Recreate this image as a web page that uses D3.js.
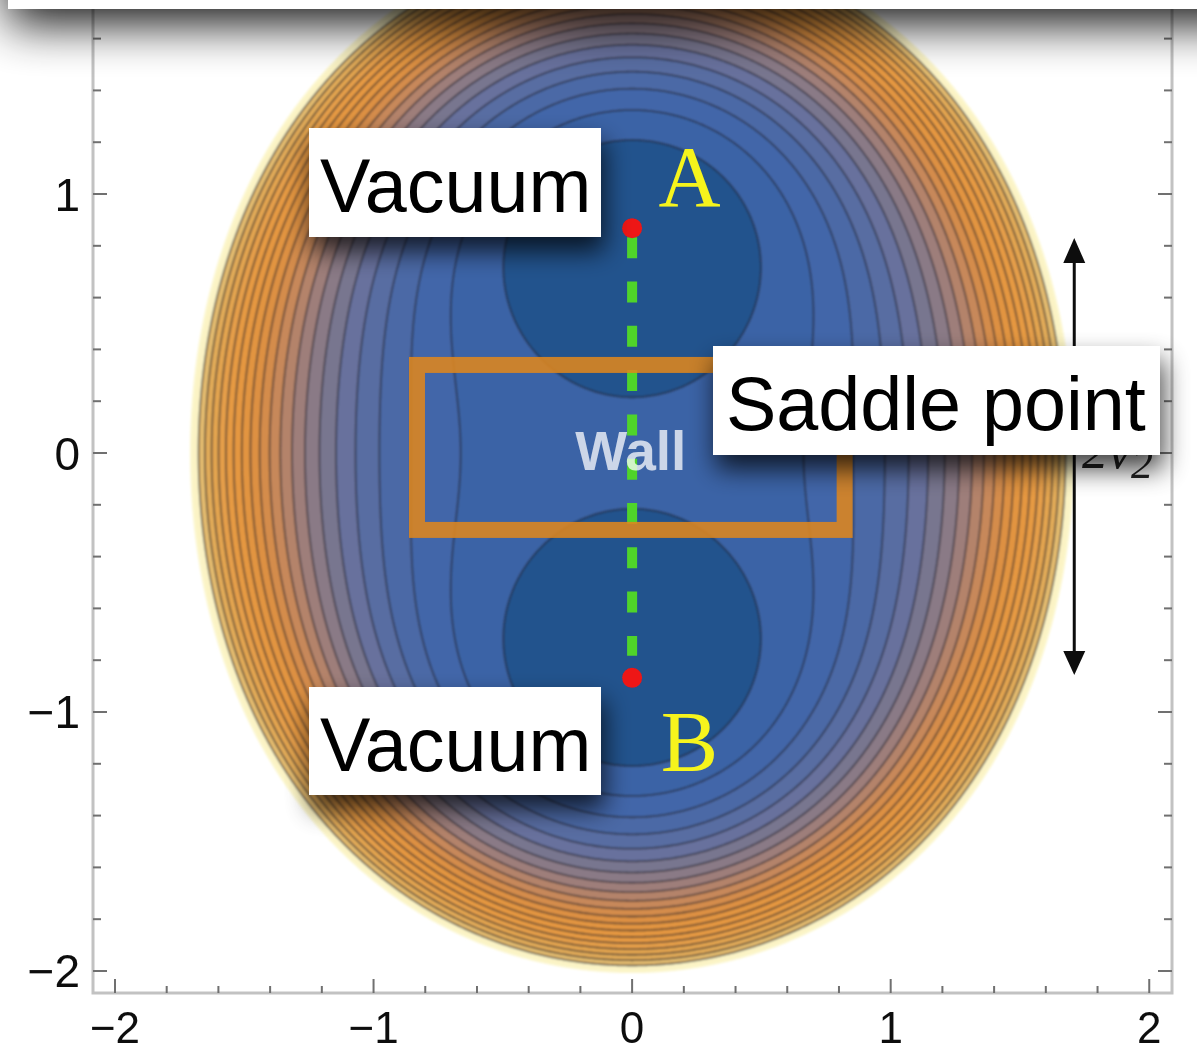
<!DOCTYPE html>
<html>
<head>
<meta charset="utf-8">
<script src="https://cdn.jsdelivr.net/npm/d3@7"></script>
<style>
  html, body { margin: 0; padding: 0; background: #ffffff; }
  svg { display: block; }
</style>
</head>
<body>
<svg id="chart" width="1197" height="1052"></svg>
<script>
// ---- data -------------------------------------------------------------
// Major tick values on both axes
const xTicks = [-2, -1, 0, 1, 2];
const yTicks = [-2, -1, 0, 1];
const tickStep = 0.2;

// Double-well potential V(x, y) = (y² − v²)² + m·x² + g·x²y² + λ·x⁴
const vev = 0.868;                    // vacua A and B sit at (0, ±vev)
const couplings = [0.544, 1.93, 1.0]; // m, g, λ

// Contour levels of V and the fill colour of the band just below each level
const contourLevels = [0.5, 1.0, 1.5, 2.0, 2.5, 3.0, 3.5, 4.0, 4.5, 5.0, 5.5,
                       6.0, 6.5, 7.0, 7.5, 8.0, 8.5, 9.0, 9.5, 10.0, 10.5];
const bandColors = ["#24538d", "#3a63a6", "#4266a9", "#4b69a6", "#586da2", "#67719d",
                    "#78768f", "#8a7a86", "#9e7e7a", "#b4836a", "#c7885a", "#d48c4b",
                    "#dd9043", "#e29440", "#e59741", "#e69a43", "#e59e48", "#e3a44f",
                    "#e2ab58", "#e4bb6e", "#fbf3c4"];

// Point labels
const vacuumNames = ["A", "B"];

// ---- scales -----------------------------------------------------------
const svg = d3.select("#chart");
const x = d3.scaleLinear().domain([-2.085, 2.088]).range([93, 1172]);
const y = d3.scaleLinear().domain([-2.085, 2.085]).range([993, -87]);

const defs = svg.append("defs");
defs.append("filter").attr("id", "soft")
  .attr("x", "-5%").attr("y", "-5%").attr("width", "110%").attr("height", "110%")
  .append("feGaussianBlur").attr("stdDeviation", 0.9);
defs.append("filter").attr("id", "softer")
  .attr("filterUnits", "userSpaceOnUse")
  .attr("x", 0).attr("y", -100).attr("width", 1197).attr("height", 1152)
  .append("feGaussianBlur").attr("stdDeviation", 0.6);

function addShadow(id, std, dx, dy, alpha, fx, fy, fw, fh) {
  const f = defs.append("filter").attr("id", id)
    .attr("x", fx).attr("y", fy).attr("width", fw).attr("height", fh);
  f.append("feGaussianBlur").attr("in", "SourceAlpha").attr("stdDeviation", std);
  f.append("feOffset").attr("dx", dx).attr("dy", dy).attr("result", "off");
  f.append("feComponentTransfer").append("feFuncA").attr("type", "linear").attr("slope", alpha);
  const m = f.append("feMerge");
  m.append("feMergeNode");
  m.append("feMergeNode").attr("in", "SourceGraphic");
}
addShadow("boxShadow", 13, 3, 14, 0.75, "-30%", "-60%", "160%", "240%");
addShadow("barShadow", 24, 0, 15, 0.92, "-10%", "-50%", "120%", "300%");

// ---- potential surface --------------------------------------------------
function potential(px, py) {
  const w = py * py - vev * vev;
  const x2 = px * px;
  return w * w + couplings[0] * x2 + couplings[1] * x2 * py * py + couplings[2] * x2 * x2;
}

const n = 640, g0 = -2.1, g1 = 2.1, step = (g1 - g0) / n;
const negV = new Float64Array(n * n);
for (let j = 0; j < n; j++) {
  const py = g1 - (j + 0.5) * step;
  for (let i = 0; i < n; i++) {
    negV[j * n + i] = -potential(g0 + (i + 0.5) * step, py);
  }
}

// -V ≥ -t  ⇔  V ≤ t : each contour is the region inside one level
const thresholds = contourLevels.map(v => -v).sort((a, b) => a - b);
const regions = d3.contours().size([n, n]).thresholds(thresholds)(negV);
const topLevel = contourLevels[contourLevels.length - 1];

const gridToPlot = d3.geoTransform({
  point: function (gx, gy) {
    this.stream.point(x(g0 + gx * step), y(g1 - gy * step));
  }
});
const path = d3.geoPath(gridToPlot);

const plot = svg.append("g").attr("filter", "url(#soft)");

// Pale halo along the cut-off edge
plot.append("path")
  .datum(regions.find(d => -d.value === topLevel))
  .attr("d", path)
  .attr("fill", "none")
  .attr("stroke", "#fcf6cc").attr("stroke-width", 5);

// Bands: widest region first, each smaller one painted over it
plot.append("g").selectAll("path")
  .data(regions)
  .join("path")
  .attr("d", path)
  .attr("fill", d => bandColors[contourLevels.indexOf(-d.value)])
  .attr("stroke", "none");

// Contour lines (all levels except the outer cut-off)
plot.append("g").selectAll("path")
  .data(regions.filter(d => -d.value < topLevel))
  .join("path")
  .attr("d", path)
  .attr("fill", "none")
  .attr("stroke", "#22222c")
  .attr("stroke-opacity", 0.62)
  .attr("stroke-width", 1.8);

// ---- frame and ticks ----------------------------------------------------
const axes = svg.append("g").attr("filter", "url(#softer)");
axes.append("rect")
  .attr("x", x.range()[0]).attr("y", y.range()[1])
  .attr("width", x.range()[1] - x.range()[0])
  .attr("height", y.range()[0] - y.range()[1])
  .attr("fill", "none").attr("stroke", "#c2c2c2").attr("stroke-width", 3);

const minor = d3.range(-10, 11).map(k => +(k * tickStep).toFixed(2));
const isMajor = v => Math.abs(v - Math.round(v)) < 1e-9;
const tickColor = "#6f6f6f";

// bottom
axes.append("g").selectAll("line").data(minor).join("line")
  .attr("x1", d => x(d)).attr("x2", d => x(d))
  .attr("y1", y.range()[0]).attr("y2", d => y.range()[0] - (isMajor(d) ? 14 : 7))
  .attr("stroke", tickColor).attr("stroke-width", 2);
// left
axes.append("g").selectAll("line").data(minor).join("line")
  .attr("y1", d => y(d)).attr("y2", d => y(d))
  .attr("x1", x.range()[0]).attr("x2", d => x.range()[0] + (isMajor(d) ? 14 : 8))
  .attr("stroke", tickColor).attr("stroke-width", 2);
// right
axes.append("g").selectAll("line").data(minor).join("line")
  .attr("y1", d => y(d)).attr("y2", d => y(d))
  .attr("x1", x.range()[1]).attr("x2", d => x.range()[1] - (isMajor(d) ? 14 : 8))
  .attr("stroke", tickColor).attr("stroke-width", 2);

const fmt = v => (v < 0 ? "\u2212" : "") + Math.abs(v);
axes.append("g").selectAll("text").data(xTicks).join("text")
  .attr("x", d => x(d)).attr("y", 1043)
  .attr("text-anchor", "middle")
  .attr("font-family", "'Liberation Sans', Arial, sans-serif")
  .attr("font-size", 44).attr("fill", "#111")
  .text(fmt);
axes.append("g").selectAll("text").data(yTicks).join("text")
  .attr("x", 80).attr("y", d => y(d) + 16.5)
  .attr("text-anchor", "end")
  .attr("font-family", "'Liberation Sans', Arial, sans-serif")
  .attr("font-size", 46).attr("fill", "#111")
  .text(fmt);

// ---- tunnelling path, vacua and labels --------------------------------
const marks = svg.append("g").attr("filter", "url(#softer)");
marks.append("line")
  .attr("x1", x(0)).attr("x2", x(0))
  .attr("y1", y(vev) + 9).attr("y2", y(-vev) - 22)
  .attr("stroke", "#4fd42c").attr("stroke-width", 10)
  .attr("stroke-dasharray", "21 23.3");

marks.selectAll("circle").data([vev, -vev]).join("circle")
  .attr("cx", x(0)).attr("cy", d => y(d)).attr("r", 10)
  .attr("fill", "#ee1515");

marks.selectAll("text.vac").data(vacuumNames).join("text")
  .attr("class", "vac")
  .attr("x", x(0.222))
  .attr("y", (d, i) => i === 0 ? 206 : 771)
  .attr("text-anchor", "middle")
  .attr("font-family", "'Liberation Serif', 'Times New Roman', serif")
  .attr("font-size", 86).attr("fill", "#f6f41c")
  .text(d => d);

// Saddle-point region
svg.append("rect")
  .attr("x", x(-0.832)).attr("y", y(0.34))
  .attr("width", x(0.822) - x(-0.832)).attr("height", y(-0.297) - y(0.34))
  .attr("fill", "none")
  .attr("stroke", "rgb(222,134,30)").attr("stroke-opacity", 0.88)
  .attr("stroke-width", 16);

svg.append("text")
  .attr("x", x(-0.005)).attr("y", 470)
  .attr("text-anchor", "middle")
  .attr("font-family", "'Liberation Sans', Arial, sans-serif")
  .attr("font-weight", "bold").attr("font-size", 55)
  .attr("fill", "#ffffff").attr("fill-opacity", 0.74)
  .text("Wall");

// Separation of the vacua
const ax = x(1.71);
const arrow = svg.append("g").attr("filter", "url(#softer)");
arrow.append("line")
  .attr("x1", ax).attr("x2", ax).attr("y1", 255).attr("y2", 660)
  .attr("stroke", "#111").attr("stroke-width", 3);
arrow.append("path")
  .attr("d", `M${ax},238 L${ax - 11},263 L${ax + 11},263 Z M${ax},675 L${ax - 11},651 L${ax + 11},651 Z`)
  .attr("fill", "#111");
const sepLabel = svg.append("text")
  .attr("x", 1082).attr("y", 468)
  .attr("font-family", "'Liberation Serif', 'Times New Roman', serif")
  .attr("font-style", "italic").attr("font-size", 52).attr("fill", "#222")
  .attr("filter", "url(#softer)");
sepLabel.append("tspan").text("2v");
sepLabel.append("tspan").attr("dy", 10).attr("font-size", 44).text("2");

// ---- callout boxes -------------------------------------------------------
const callouts = [
  { text: "Vacuum", x0: 309, y0: 128, w: 292, h: 109, tx: 320, ty: 212 },
  { text: "Vacuum", x0: 309, y0: 687, w: 292, h: 108, tx: 320, ty: 771 },
  { text: "Saddle point", x0: 713, y0: 346, w: 447, h: 109, tx: 726, ty: 430 }
];
const cg = svg.append("g").selectAll("g").data(callouts).join("g");
cg.append("rect")
  .attr("x", d => d.x0).attr("y", d => d.y0)
  .attr("width", d => d.w).attr("height", d => d.h)
  .attr("fill", "#ffffff").attr("filter", "url(#boxShadow)");
cg.append("text")
  .attr("x", d => d.tx).attr("y", d => d.ty)
  .attr("font-family", "'Liberation Sans', Arial, sans-serif")
  .attr("font-size", 75.5).attr("fill", "#000")
  .text(d => d.text);

// ---- overlapping panel edge along the top ------------------------------
svg.append("rect")
  .attr("x", 8).attr("y", -120).attr("width", 1260).attr("height", 129)
  .attr("fill", "#ffffff").attr("filter", "url(#barShadow)");
</script>
</body>
</html>
